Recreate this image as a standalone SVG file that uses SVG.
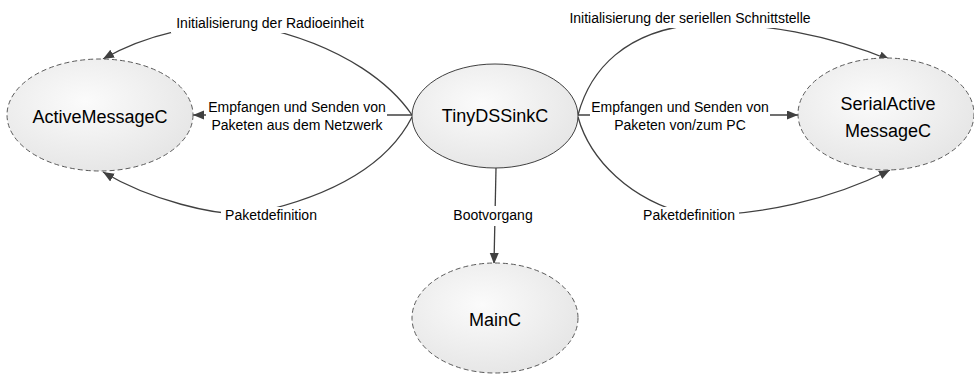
<svg xmlns="http://www.w3.org/2000/svg" width="974" height="374" viewBox="0 0 974 374">
  <defs>
    <radialGradient id="nodeFill" cx="0.42" cy="0.38" r="0.7">
      <stop offset="0" stop-color="#fbfbfb"/>
      <stop offset="1" stop-color="#e4e4e4"/>
    </radialGradient>
    <marker id="arrow" markerUnits="userSpaceOnUse" markerWidth="12" markerHeight="10" refX="11" refY="4.5" orient="auto">
      <path d="M0,0 L11,4.5 L0,9 z" fill="#404040"/>
    </marker>
  </defs>
  <style>
    .node { fill: url(#nodeFill); }
    .dashed { stroke: #5a5a5a; stroke-width: 1; stroke-dasharray: 5 3; }
    .solid { stroke: #404040; stroke-width: 1; }
    .title { font-family: "Liberation Sans", Arial, sans-serif; font-size: 18px; fill: #000; text-anchor: middle; }
    .edge { fill: none; stroke: #404040; stroke-width: 1.3; }
    .arrowed { marker-end: url(#arrow); }
    .label { font-family: "Liberation Sans", Arial, sans-serif; font-size: 14px; fill: #000; text-anchor: middle; }
    .mask { fill: #fff; }
  </style>
  <rect width="974" height="374" fill="#fff"/>

  <!-- connectors with their labels -->
  <g id="connectors">
    <!-- TinyDSSinkC -> ActiveMessageC -->
    <path class="edge arrowed" d="M412,115 C395,90 350,45 250,25 C200,22 145,35 103,59"/>
    <path class="edge arrowed" d="M412,115 L193,115"/>
    <path class="edge arrowed" d="M412,117 C390,160 340,195 250,214 C215,216 150,200 103,172"/>
    <!-- TinyDSSinkC -> SerialActiveMessageC -->
    <path class="edge arrowed" d="M578,115 C590,70 625,30 700,24 C760,22 830,35 890,60"/>
    <path class="edge arrowed" d="M578,115 L798,115"/>
    <path class="edge arrowed" d="M578,117 C590,160 630,200 690,215 C760,216 830,200 890,170"/>
    <!-- TinyDSSinkC -> MainC -->
    <path class="edge arrowed" d="M496,168 L494,264"/>

    <g id="label-radio">
      <rect class="mask" x="171" y="14" width="198" height="19"/>
      <text class="label" x="270" y="28">Initialisierung der Radioeinheit</text>
    </g>
    <g id="label-net">
      <rect class="mask" x="206" y="97" width="181" height="38"/>
      <text class="label" x="297" y="112">Empfangen und Senden von</text>
      <text class="label" x="297" y="130">Paketen aus dem Netzwerk</text>
    </g>
    <g id="label-pkt-left">
      <rect class="mask" x="221" y="207" width="101" height="18"/>
      <text class="label" x="271" y="220">Paketdefinition</text>
    </g>
    <g id="label-serial">
      <rect class="mask" x="563" y="9" width="254" height="19"/>
      <text class="label" x="690" y="23">Initialisierung der seriellen Schnittstelle</text>
    </g>
    <g id="label-pc">
      <rect class="mask" x="590" y="97" width="180" height="38"/>
      <text class="label" x="680" y="112">Empfangen und Senden von</text>
      <text class="label" x="680" y="130">Paketen von/zum PC</text>
    </g>
    <g id="label-pkt-right">
      <rect class="mask" x="640" y="207" width="99" height="18"/>
      <text class="label" x="689" y="220">Paketdefinition</text>
    </g>
    <g id="label-boot">
      <rect class="mask" x="451" y="206" width="84" height="20"/>
      <text class="label" x="493" y="220">Bootvorgang</text>
    </g>
  </g>

  <!-- nodes -->
  <g id="ActiveMessageC">
    <ellipse class="node dashed" cx="100" cy="115" rx="93" ry="56"/>
    <text class="title" x="100" y="123">ActiveMessageC</text>
  </g>
  <g id="TinyDSSinkC">
    <ellipse class="node solid" cx="495" cy="116" rx="83" ry="52"/>
    <text class="title" x="495" y="122">TinyDSSinkC</text>
  </g>
  <g id="SerialActiveMessageC">
    <ellipse class="node dashed" cx="886" cy="114" rx="88" ry="56"/>
    <text class="title" x="888" y="110">SerialActive</text>
    <text class="title" x="888" y="137">MessageC</text>
  </g>
  <g id="MainC">
    <ellipse class="node dashed" cx="495" cy="318" rx="83" ry="55"/>
    <text class="title" x="495" y="326">MainC</text>
  </g>
</svg>
